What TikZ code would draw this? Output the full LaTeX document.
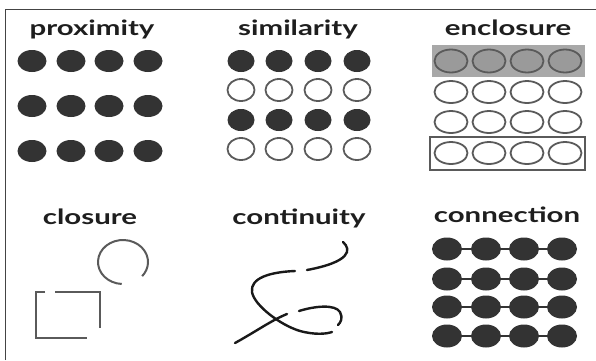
\documentclass[tikz,border=0pt]{standalone}
\usepackage{fontspec}
\setmainfont{Lato}
\definecolor{dotdark}{HTML}{333333}
\definecolor{ringgray}{HTML}{5A5A5A}
\definecolor{encfill}{HTML}{A8A8A8}
\definecolor{encdot}{HTML}{9A9A9A}
\definecolor{txt}{HTML}{1E1E1E}
\definecolor{frame}{HTML}{444444}
\newcommand{\widetxt}[1]{\scalebox{1.4}[1]{#1}}
\begin{document}
\begin{tikzpicture}[x=1pt,y=-1pt,
  lbl/.style={font=\fontsize{21}{24}\selectfont\bfseries, text=txt, anchor=base, inner sep=0pt},
  darkdot/.style={fill=dotdark},
  opendot/.style={draw=ringgray, line width=1.8pt, fill=white},
  encdotstyle/.style={draw=ringgray, line width=1.8pt, fill=encdot},
  stroke/.style={draw=ringgray, line width=2pt},
  contline/.style={draw=black!90, line width=2.4pt, line cap=round}]
\useasboundingbox (0,0) rectangle (596,360);
\fill[white] (0,0) rectangle (596,360);
% frame
\draw[frame, line width=1pt] (5,360) -- (5,9) -- (596,9);

% labels
\node[lbl] (tprox) at (92,35) {\widetxt{proximity}};
\node[lbl] (tsim) at (298,35) {\widetxt{similarity}};
\node[lbl] (tenc) at (508,35) {\widetxt{enclosure}};
\node[lbl] (tclo) at (90,224) {\widetxt{closure}};
\node[lbl] (tcont) at (299,224) {\widetxt{continuity}};
\node[lbl] (tconn) at (507,222) {\widetxt{connection}};

% proximity
\foreach \y in {61,106,151}
  \foreach \x in {32,71,109,148}
    \fill[darkdot] (\x,\y) ellipse [x radius=14.5, y radius=11];

% similarity
\foreach \y/\s in {61/darkdot,90/opendot,120/darkdot,149/opendot}
  \foreach \x in {241,279,318,357}
    \path[\s] (\x,\y) ellipse [x radius=13.5, y radius=11];

% enclosure
\fill[encfill] (432,45) rectangle (585,77);
\foreach \x in {451,489,527,565}
  \path[encdotstyle] (\x,61) ellipse [x radius=16.5, y radius=11.5];
\foreach \y in {92,122,153}
  \foreach \x in {451,489,527,565}
    \path[opendot] (\x,\y) ellipse [x radius=16.5, y radius=11];
\draw[ringgray, line width=1.6pt] (430,137) rectangle (585,170);

% closure
\draw[stroke] (123,262) ++(93:25 and 22) arc [start angle=93, end angle=400, x radius=25, y radius=22];
\draw[stroke] (45,292) -- (36,292) -- (36,338) -- (87,338);
\draw[stroke] (55,292) -- (100,292) -- (100,328);

% continuity
\draw[contline] (343,242) .. controls (352,250) and (350,262) .. (307,270);
\draw[contline] (295,271) .. controls (270,272) and (250,278) .. (252,292)
  .. controls (254,305) and (280,325) .. (300,331)
  .. controls (315,335) and (326,334) .. (332,332);
\draw[contline] (235,343) .. controls (255,332) and (272,320) .. (287,314);
\draw[contline] (299,311) .. controls (315,306) and (335,304) .. (340,312)
  .. controls (343,318) and (341,322) .. (338,325);

% connection
\foreach \y in {249,279,307,336} {
  \draw[dotdark, line width=2pt] (447,\y) -- (562,\y);
  \foreach \x in {447,486,524,562}
    \fill[darkdot] (\x,\y) ellipse [x radius=15, y radius=11.5];
}
\end{tikzpicture}
\end{document}
